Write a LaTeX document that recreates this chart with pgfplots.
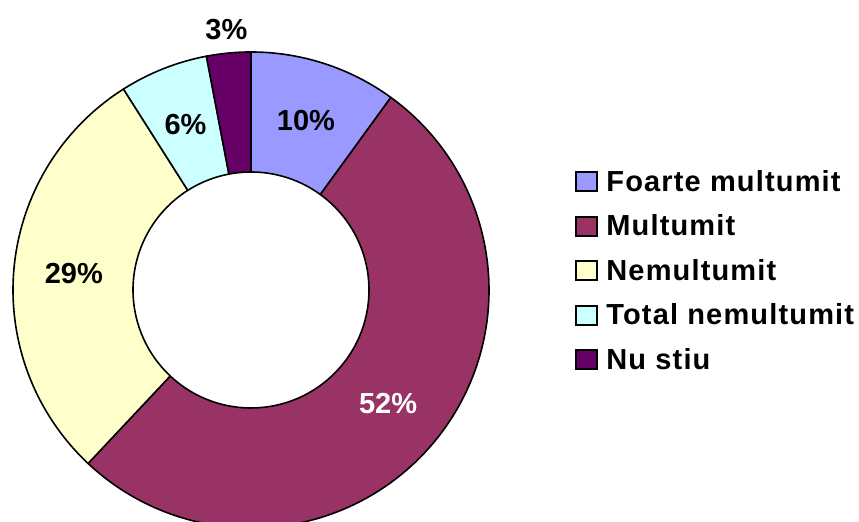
\documentclass[border=0pt]{standalone}
\usepackage{pgfplots}
\pgfplotsset{compat=1.18}
\usepackage{pgfplotstable}
\usepackage{fontspec}
\setmainfont{Liberation Sans}

\definecolor{cFoarte}{HTML}{9999FF}
\definecolor{cMult}{HTML}{993366}
\definecolor{cNemult}{HTML}{FFFFCC}
\definecolor{cTotal}{HTML}{CCFFFF}
\definecolor{cNustiu}{HTML}{660066}

% share (%), slice colour, label colour, label radius (px)
\pgfplotstableread[col sep=comma]{
name,value,fillc,textc,lr
Foarte multumit,10,cFoarte,black,178
Multumit,52,cMult,white,178
Nemultumit,29,cNemult,black,178
Total nemultumit,6,cTotal,black,178
Nu stiu,3,cNustiu,black,262
}\donut

\begin{document}
\begin{tikzpicture}[font=\bfseries\fontsize{14.5}{17}\selectfont]
\begin{axis}[
    name=ax,
    scale only axis,
    width=429.5pt, height=261pt,
    xmin=0, xmax=859, ymin=0, ymax=522,
    hide axis,
    clip=false,
]
\pgfplotsextra{
  \def\startang{90}
  \pgfplotsforeachungrouped \i in {0,...,4}{%
    \pgfplotstablegetelem{\i}{value}\of\donut \let\val\pgfplotsretval
    \pgfplotstablegetelem{\i}{fillc}\of\donut \let\fc\pgfplotsretval
    \pgfplotstablegetelem{\i}{textc}\of\donut \let\tc\pgfplotsretval
    \pgfplotstablegetelem{\i}{lr}\of\donut \let\lrad\pgfplotsretval
    \pgfplotstablegetelem{\i}{name}\of\donut \let\nm\pgfplotsretval
    \pgfmathsetmacro\stopang{\startang-3.6*\val}
    \pgfmathsetmacro\midang{(\startang+\stopang)/2}
    \pgfmathsetmacro\xo{251+238*cos(\startang)}
    \pgfmathsetmacro\yo{232+238*sin(\startang)}
    \pgfmathsetmacro\xin{251+118*cos(\stopang)}
    \pgfmathsetmacro\yin{232+118*sin(\stopang)}
    \filldraw[fill=\fc, draw=black, line width=0.8pt, line join=round]
      (axis cs:\xo,\yo) arc[start angle=\startang, end angle=\stopang, radius=119pt]
      -- (axis cs:\xin,\yin) arc[start angle=\stopang, end angle=\startang, radius=59pt]
      -- cycle;
    \pgfmathsetmacro\lx{251+\lrad*cos(\midang)}
    \pgfmathsetmacro\ly{232+\lrad*sin(\midang)}
    \node[text=\tc, inner sep=0] at (axis cs:\lx,\ly) {\val\%};
    % legend entry
    \pgfmathsetmacro\ryb{522-(182+44.5*\i)-9.5}
    \pgfmathsetmacro\ryt{\ryb+19}
    \filldraw[fill=\fc, draw=black, line width=1pt]
      (axis cs:576,\ryb) rectangle (axis cs:597,\ryt);
    \node[anchor=base west, inner sep=0] at (axis cs:606,\ryb)
      {\addfontfeatures{LetterSpace=4}\nm};
    \let\startang\stopang
  }
}
\end{axis}
\pgfresetboundingbox
\path[use as bounding box] (ax.south west) rectangle (ax.north east);
\end{tikzpicture}
\end{document}
